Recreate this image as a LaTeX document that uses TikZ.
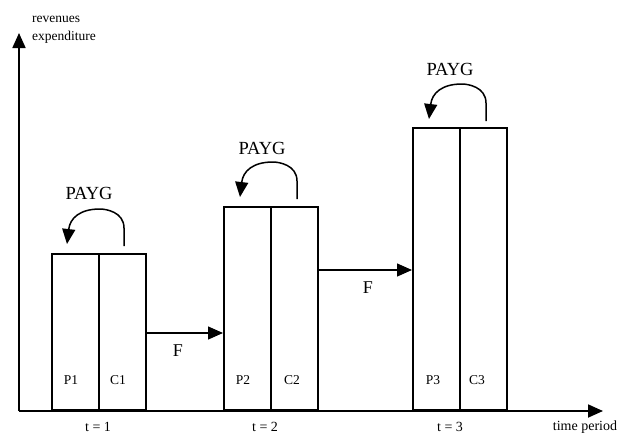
\documentclass[tikz,border=0pt]{standalone}
\usepackage{fontspec}
\setmainfont{Liberation Serif}
\usetikzlibrary{arrows.meta}
\begin{document}
\begin{tikzpicture}[x=1pt,y=-1pt,
  tip/.style={-{Triangle[length=15pt,width=13pt]}},
  axis/.style={line width=1.8pt,tip},
  flow/.style={line width=1.3pt,tip},
  loop/.style={line width=1.5pt,tip},
  half/.style={draw,line width=1.8pt,minimum width=47pt,inner sep=0pt,anchor=south west},
  lab/.style={font=\fontsize{13.5}{13.5}\selectfont},
  tlab/.style={font=\fontsize{14}{14}\selectfont},
  payg/.style={font=\fontsize{18.5}{18.5}\selectfont},
  flab/.style={font=\fontsize{18}{18}\selectfont}]
\useasboundingbox (0,0) rectangle (619,434);

% axes
\coordinate (o) at (19,411);
\coordinate (ytop) at (19,33);
\coordinate (xend) at (603,411);
\draw[axis] (o) -- (ytop);
\draw[axis] (o) -- (xend);
\node[lab,anchor=west,inner sep=0pt] (yl1) at (32,19) {revenues};
\node[lab,anchor=west,inner sep=0pt] (yl2) at (32,37) {expenditure};
\node[tlab] (tp) at (585,427) {time period};

% period 1
\node[half,minimum height=156pt] (p1) at (51,411) {};
\node[half,minimum height=156pt] (c1) at (98,411) {};
\node[lab] (p1t) at (71,380) {P1};
\node[lab] (c1t) at (118,380) {C1};
\node[tlab] (t1) at (98,427) {t = 1};

% period 2
\node[half,minimum height=203pt] (p2) at (223,411) {};
\node[half,minimum height=203pt] (c2) at (270,411) {};
\node[lab] (p2t) at (243,380) {P2};
\node[lab] (c2t) at (292,380) {C2};
\node[tlab] (t2) at (265,427) {t = 2};

% period 3
\node[half,minimum height=282pt] (p3) at (412,411) {};
\node[half,minimum height=282pt] (c3) at (459,411) {};
\node[lab] (p3t) at (433,380) {P3};
\node[lab] (c3t) at (477,380) {C3};
\node[tlab] (t3) at (450,427) {t = 3};

% funded transfers between periods
\coordinate (f1a) at (c1.east |- 0,333);
\coordinate (f1b) at (p2.west |- 0,333);
\draw[flow] (f1a) -- (f1b);
\node[flab] (f1) at (178,351) {F};
\coordinate (f2a) at (c2.east |- 0,270);
\coordinate (f2b) at (p3.west |- 0,270);
\draw[flow] (f2a) -- (f2b);
\node[flab] (f2) at (368,288) {F};

% pay-as-you-go loops: up from the C half, over, and down onto the P half
\coordinate (l1a) at (124,246);
\coordinate (l1b) at (67,244);
\draw[loop] (l1a) -- ++(0,-18) .. controls ++(0,-16) and ++(6,0) .. ++(-24,-19)
  .. controls ++(-20,0) and ++(3,-26) .. (l1b);
\node[payg] (g1) at (89,193) {PAYG};

\coordinate (l2a) at (297,199);
\coordinate (l2b) at (240,197);
\draw[loop] (l2a) -- ++(0,-18) .. controls ++(0,-16) and ++(6,0) .. ++(-24,-19)
  .. controls ++(-20,0) and ++(3,-26) .. (l2b);
\node[payg] (g2) at (262,148) {PAYG};

\coordinate (l3a) at (486,121);
\coordinate (l3b) at (429,119);
\draw[loop] (l3a) -- ++(0,-18) .. controls ++(0,-16) and ++(6,0) .. ++(-24,-19)
  .. controls ++(-20,0) and ++(3,-26) .. (l3b);
\node[payg] (g3) at (450,69) {PAYG};
\end{tikzpicture}
\end{document}
